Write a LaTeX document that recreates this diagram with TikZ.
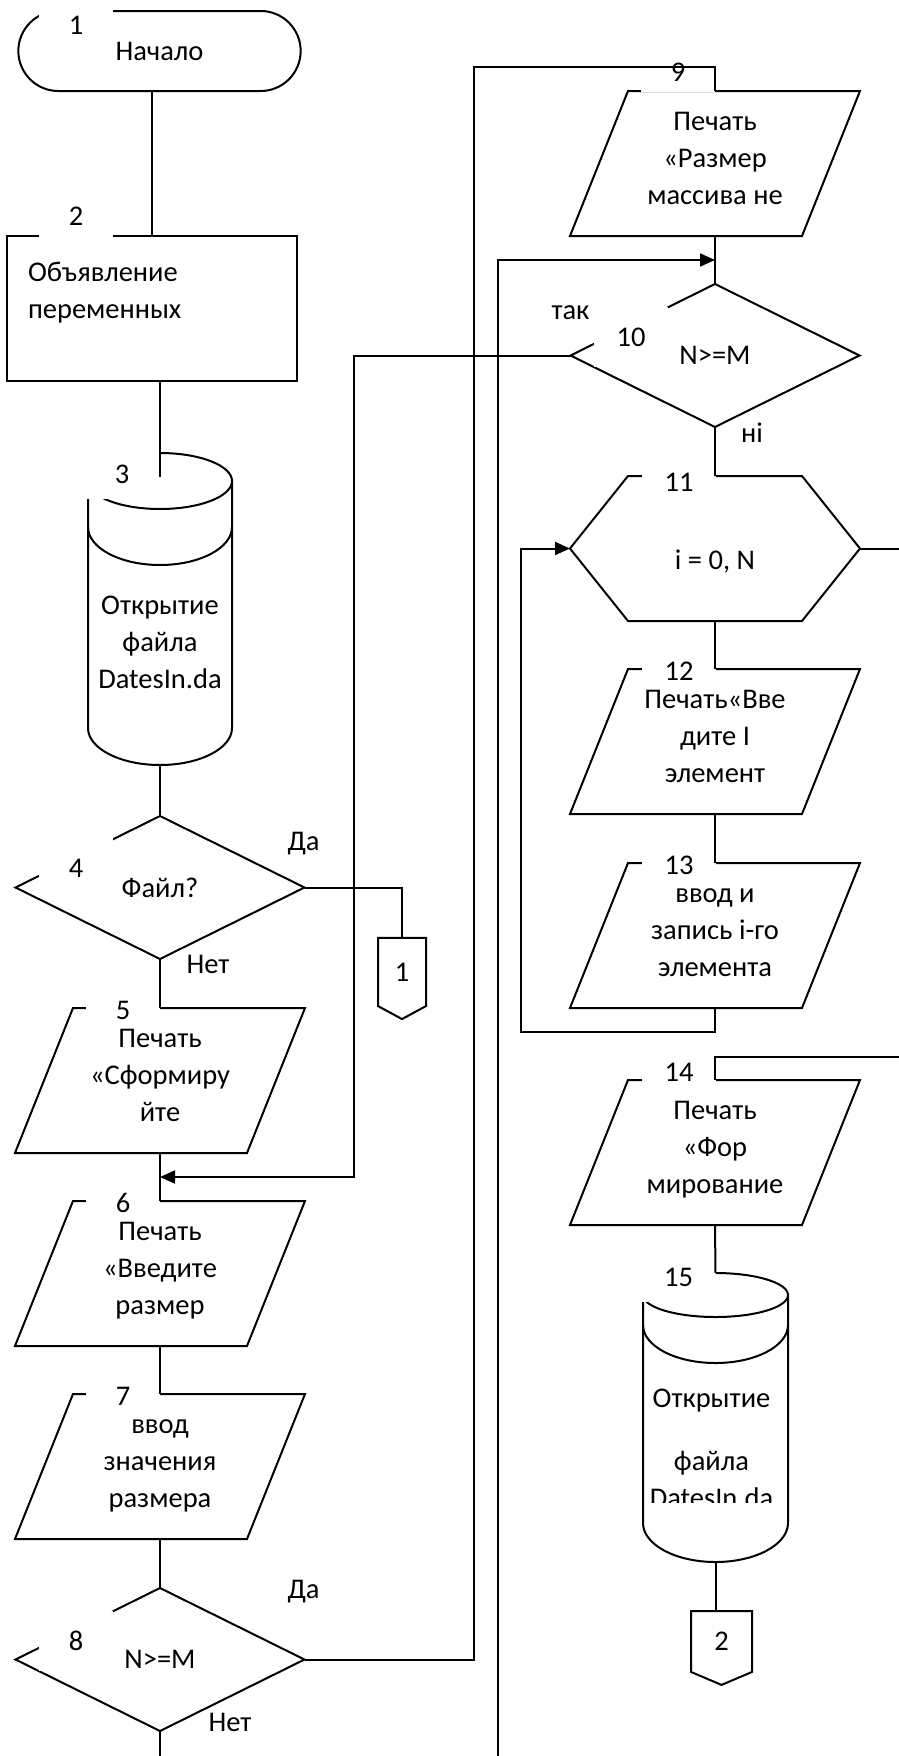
\documentclass[tikz,border=0pt]{standalone}
\usepackage{fontspec}
\setmainfont{Carlito}
\usepackage{tikz}
\usetikzlibrary{arrows.meta,positioning,calc,shapes.geometric,shapes.misc,shapes.symbols}

% disk outline round an empty node: name, x radius, cap radius, second arc drop, bottom radius
\newcommand{\drawdisk}[5]{%
  \draw ([yshift=-#3pt]#1.north) ellipse [x radius=#2pt, y radius=#3pt];
  \draw ([yshift=-#3pt]#1.north west) -- ([yshift=#5pt]#1.south west)
    arc [start angle=180, end angle=360, x radius=#2pt, y radius=#5pt]
    -- ([yshift=-#3pt]#1.north east);
  \draw ([yshift=-#4pt]#1.north west)
    arc [start angle=180, end angle=360, x radius=#2pt, y radius=38pt];
}
% slanted input/output box round a node
\newcommand{\drawio}[1]{%
  \draw ([xshift=58pt]#1.north west) -- (#1.north east)
    -- ([xshift=-58pt]#1.south east) -- (#1.south west) -- cycle;
}
% loop hexagon round a node
\newcommand{\drawloop}[1]{%
  \draw ([xshift=58pt]#1.north west) -- ([xshift=-58pt]#1.north east) -- (#1.east)
    -- ([xshift=-58pt]#1.south east) -- ([xshift=58pt]#1.south west) -- (#1.west) -- cycle;
}

\begin{document}
\begin{tikzpicture}[x=1pt,y=1pt,
  font=\fontsize{28.5}{37}\selectfont,
  line width=2pt,
  node distance=48pt,
  term/.style={rounded rectangle,draw,minimum width=289pt,minimum height=80pt,outer sep=0pt},
  block/.style={rectangle,draw,minimum width=290pt,minimum height=145pt,outer sep=0pt},
  disk/.style={rectangle,minimum width=144pt,minimum height=312pt,inner sep=0pt,outer sep=0pt},
  io/.style={rectangle,minimum width=290pt,minimum height=145pt,inner sep=0pt,outer sep=0pt,align=center,text height=90pt,text depth=9pt},
  cond/.style={diamond,draw,minimum width=289pt,minimum height=143pt,inner sep=0pt,outer sep=0pt},
  loopbox/.style={rectangle,minimum width=290pt,minimum height=145pt,inner sep=0pt,outer sep=0pt,align=center},
  offpage/.style={signal,signal to=south,draw,inner sep=0pt,outer sep=0pt},
  num/.style={fill=white,minimum width=74pt,minimum height=30pt,inner sep=0pt},
  note/.style={inner sep=0pt},
  arrow/.style={-{Triangle[length=15pt,width=13pt]}}
]
\useasboundingbox (0,0) rectangle (899,-1756);

% left column
\node[term] (t1) at (159.5,-51) {Начало};
\node[block,below=145pt of t1,xshift=-7.5pt,text width=248pt,align=left] (b2) {Объявление\\переменных\\\mbox{}};
\node[disk,below=72pt of b2,xshift=8pt] (c3) {};
\node[align=center] (c3t) at ([yshift=-33pt]c3.center) {Открытие\\файла\\DatesIn.da};
\node[cond,below=51pt of c3] (d4) {Файл?};
\node[io,below=49pt of d4] (p5) {Печать\\«Сформиру\\йте};
\node[io,below=of p5] (p6) {Печать\\«Введите\\размер};
\node[io,below=of p6] (p7) {ввод\\значения\\размера};
\node[cond,below=49pt of p7] (d8) {N>=M};
\node[offpage,minimum width=48pt,minimum height=72pt,signal pointer angle=123] (o1) at (402,-972) {1};

% right column
\node[io] (p9) at (715,-163.5) {Печать\\«Размер\\массива не};
\node[cond,below=of p9] (d10) {N>=M};
\node[loopbox,below=49pt of d10] (h11) {\mbox{}\\[8pt]i = 0, N};
\node[io,below=of h11] (p12) {Печать«Вве\\дите I\\элемент};
\node[io,below=49pt of p12] (p13) {ввод и\\запись i-го\\элемента};
\node[io,below=72pt of p13] (p14) {Печать\\«Фор\\мирование};
\node[disk,minimum width=145pt,minimum height=289pt,below=of p14,xshift=0.5pt] (c15) {};
\begin{scope}
  \clip (c15.north west) rectangle ([yshift=-229pt]c15.north east);
  \node[align=center] (c15t) at ([shift={(-4,-175)}]c15.north) {Открытие\\[26pt]файла\\DatesIn.da};
\end{scope}
\node[offpage,minimum width=61pt,minimum height=64pt,signal pointer angle=134,below=49pt of c15,xshift=6pt] (o2) {2};

\foreach \blk in {p5,p6,p7,p9,p12,p13,p14} {\drawio{\blk}}
\drawloop{h11}
\drawdisk{c3}{72}{28}{74}{37}
\drawdisk{c15}{72.5}{22}{52}{39}

% block numbers
\node[num,minimum height=36pt] (n1) at ([shift={(-83.5,-14)}]t1.north) {1};
\node[num,minimum height=44pt] (n2) at ([shift={(-76,20)}]b2.north) {2};
\node[num,minimum height=50pt] (n3) at ([shift={(-38,-21)}]c3.north) {3};
\node[num,minimum height=60pt] (n4) at ([shift={(-84,-52)}]d4.north) {4};
\node[num,minimum height=24pt] (n5) at ([shift={(-37,-2)}]p5.north) {5};
\node[num,minimum height=24pt] (n6) at ([shift={(-37,-2)}]p6.north) {6};
\node[num,minimum height=24pt] (n7) at ([shift={(-37,-2)}]p7.north) {7};
\node[num,minimum height=60pt] (n8) at ([shift={(-84,-53)}]d8.north) {8};
\node[num,minimum height=40pt] (n9) at ([shift={(-37,19)}]p9.north) {9};
\node[num,minimum height=60pt] (n10) at ([shift={(-84,-53)}]d10.north) {10};
\node[num] (n11) at ([shift={(-36,-6)}]h11.north) {11};
\node[num,minimum height=24pt] (n12) at ([shift={(-36,-2)}]p12.north) {12};
\node[num,minimum height=24pt] (n13) at ([shift={(-36,-2)}]p13.north) {13};
\node[num] (n14) at ([shift={(-36,8)}]p14.north) {14};
\node[num,minimum height=50pt] (n15) at ([shift={(-37,-4)}]c15.north) {15};

% branch words
\node[note] (yes4) at ([shift={(-1,44)}]d4.east) {Да};
\node[note] (no4) at ([shift={(48,-5)}]d4.south) {Нет};
\node[note] (yes8) at ([shift={(-1,68)}]d8.east) {Да};
\node[note] (no8) at ([shift={(70,9)}]d8.south) {Нет};
\node[note] (yes10) at ([shift={(0,43)}]d10.west) {так};
\node[note] (no10) at ([shift={(37,-6)}]d10.south) {ні};

% free ends at the page edges
\coordinate (out8) at (160,-1756);
\coordinate (in10) at (498,-1756);
\coordinate (top9) at (474,-67);
\coordinate (exit11) at (899,0);
\coordinate (ent14) at (899,-1057);

\draw (t1.south -| b2.north) -- (b2.north);
\draw (b2.south -| c3.north) -- ([yshift=-24pt]c3.north);
\draw (c3.south) -- (d4.north);
\draw (d4.south) -- (p5.north);
\draw (d4.east) -| (o1.north);
\draw (p5.south) -- (p6.north);
\draw (p6.south) -- (p7.north);
\draw (p7.south) -- (d8.north);
\draw (d8.south) -- (out8);
\draw (d8.east) -| (top9) -| (p9.north);
\draw (p9.south) -- (d10.north);
\draw[arrow] (in10) |- ($(p9.south)!.5!(d10.north)$);
\draw[arrow] (d10.west) -- ++(-217,0) |- ($(p5.south)!.5!(p6.north)$);
\draw (d10.south) -- (h11.north);
\draw (h11.south) -- (p12.north);
\draw (p12.south) -- (p13.north);
\draw[arrow] (p13.south) -- ++(0,-24) -- ++(-194,0) |- (h11.west);
\draw (h11.east) -- (h11.east -| exit11);
\draw (ent14) -| (p14.north);
\draw (p14.south) -- (c15.north);
\draw (c15.south) -- (c15.south |- o2.north);
\end{tikzpicture}
\end{document}
